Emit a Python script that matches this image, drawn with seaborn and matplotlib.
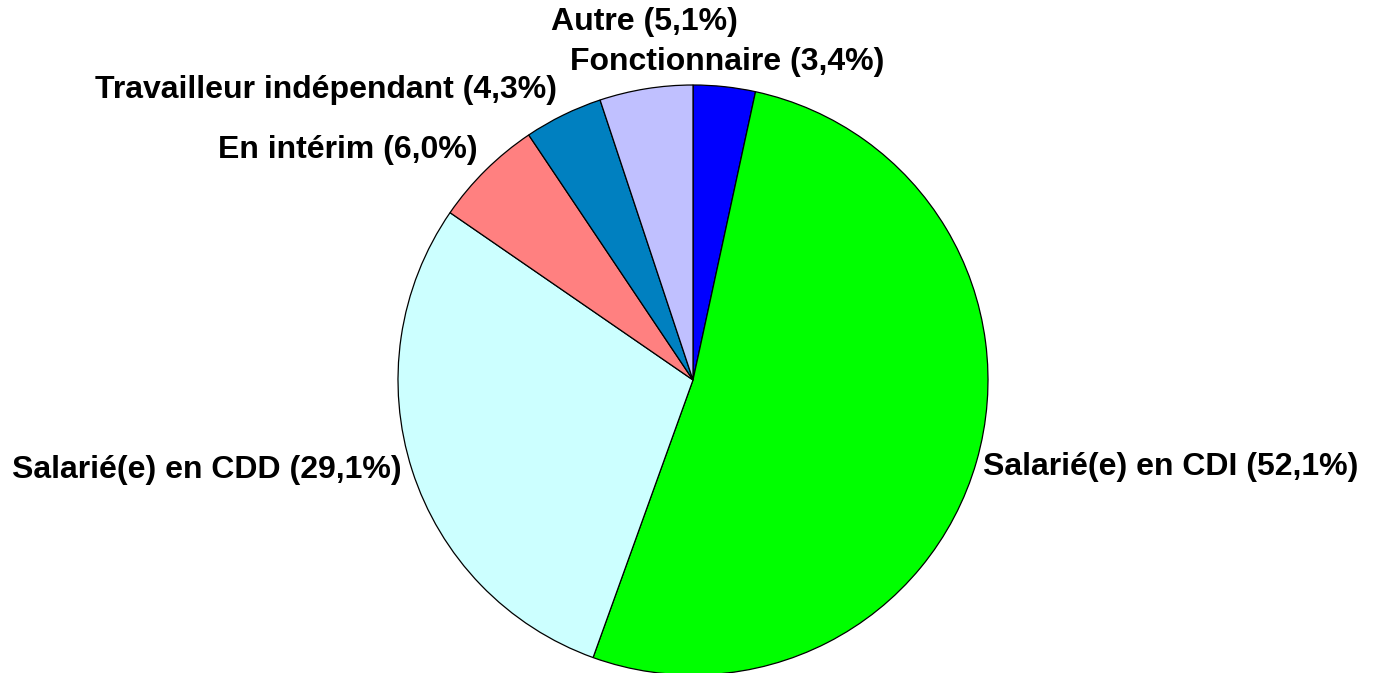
import matplotlib
matplotlib.use("Agg")
import matplotlib.pyplot as plt
import seaborn as sns
import numpy as np

sns.set_theme(style="white")
plt.rcParams['font.family'] = ['Liberation Sans', 'DejaVu Sans']

categories = ["Fonctionnaire", "Salarié(e) en CDI", "Salarié(e) en CDD",
              "En intérim", "Travailleur indépendant", "Autre"]
values = [3.4, 52.1, 29.1, 6.0, 4.3, 5.1]
colors = ["#0000FF", "#00FF00", "#CCFFFF", "#FF8080", "#0080C0", "#C0C0FF"]

# label anchor positions (layout, in pie-radius units)
label_pos = [(0.115, 1.078), (1.620, -0.295), (-1.647, -0.305),
             (-1.169, 0.780), (-1.244, 0.983), (-0.163, 1.214)]

W, H = 1378, 673
fig = plt.figure(figsize=(W / 100, H / 100), dpi=100)
ax = fig.add_axes([0, 0, 1, 1])

ax.pie(values, colors=colors, startangle=90, counterclock=False,
       wedgeprops=dict(edgecolor="black", linewidth=0.9))

R = 295.0
cx, cy = 693.0, 380.0
ax.set_xlim(-cx / R, (W - cx) / R)
ax.set_ylim(-(H - cy) / R, cy / R)
ax.set_aspect('auto')
ax.axis('off')

for cat, v, (x, y) in zip(categories, values, label_pos):
    txt = f"{cat} ({v:.1f}%)".replace(".", ",")
    ax.text(x, y, txt, ha="center", va="center", fontsize=23,
            fontweight="bold", color="black")

fig.savefig("out.png", dpi=100)
